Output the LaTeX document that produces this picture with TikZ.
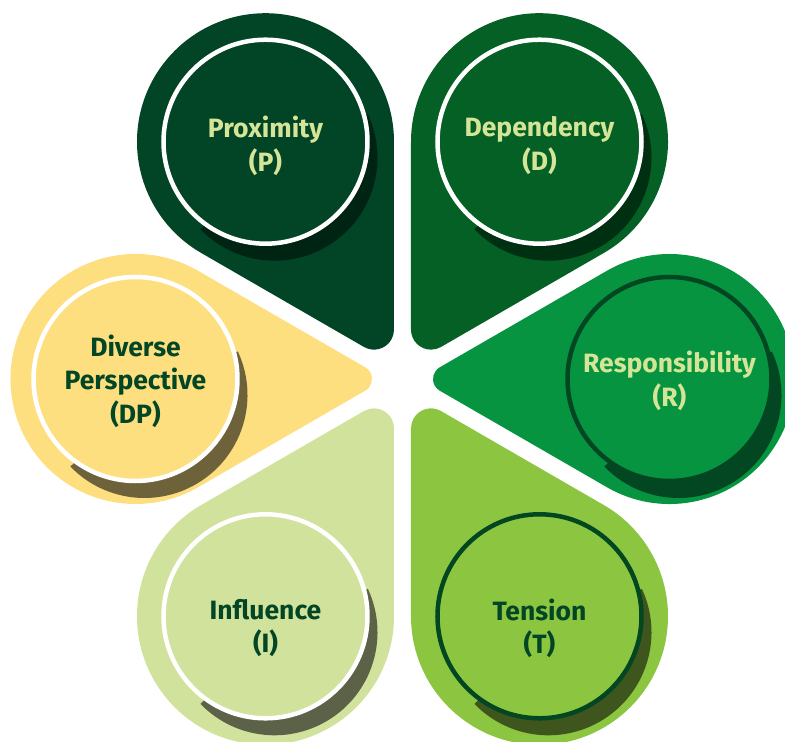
\documentclass[tikz,border=0pt]{standalone}
\usepackage{fontspec}
\setmainfont{Fira Sans}
\usetikzlibrary{calc}

\definecolor{proxcol}{RGB}{2,69,38}
\definecolor{proxshadow}{RGB}{0,36,20}
\definecolor{depcol}{RGB}{4,96,36}
\definecolor{depshadow}{RGB}{0,48,18}
\definecolor{respcol}{RGB}{6,148,64}
\definecolor{respshadow}{RGB}{2,70,34}
\definecolor{tenscol}{RGB}{140,198,64}
\definecolor{tensshadow}{RGB}{62,86,30}
\definecolor{inflcol}{RGB}{209,226,156}
\definecolor{inflshadow}{RGB}{92,98,72}
\definecolor{divcol}{RGB}{254,223,128}
\definecolor{divshadow}{RGB}{110,98,58}
\definecolor{lighttext}{RGB}{213,229,152}
\definecolor{darktext}{RGB}{3,70,38}

% petal: axis angle, outer radius, tip rounding, colour
\newcommand{\petal}[4]{%
	\pgfmathsetmacro{\tipc}{17+2*#3}
	\pgfmathsetmacro{\bigc}{17+2*#2}
	\fill[#4,rotate=#1] ([shift={(\tipc,0)}]120:#3) arc[start angle=120,end angle=240,radius=#3]
		-- ([shift={(\bigc,0)}]240:#2) arc[start angle=240,end angle=480,radius=#2] -- cycle;}
% shadow crescent behind the inner circle
\newcommand{\petalshadow}[2]{%
	\fill[#2] ($(#1)+(9,-16)$) -- +(25:103) arc[start angle=25,end angle=-136,radius=103] -- cycle;}

\tikzset{
	incircle/.style={circle,minimum size=204pt,inner sep=0pt,line width=4.5pt},
	petaltext/.style={align=center,font=\bfseries\fontsize{26.5}{33.5}\selectfont},
}

\begin{document}
\begin{tikzpicture}[x=1pt,y=1pt]
	\clip (-402.5,-363) rectangle (382.5,379);
	\coordinate (p) at (120:274);
	\coordinate (d) at (60:274);
	\coordinate (r) at (0:267);
	\coordinate (t) at (-60:274);
	\coordinate (i) at (-120:274);
	\coordinate (dp) at (180:267);

	\petal{120}{128.5}{20}{proxcol}
	\petal{60}{128.5}{20}{depcol}
	\petal{0}{125}{13.5}{respcol}
	\petal{-60}{128.5}{20}{tenscol}
	\petal{-120}{128.5}{20}{inflcol}
	\petal{180}{125}{13.5}{divcol}

	\petalshadow{p}{proxshadow}
	\petalshadow{d}{depshadow}
	\petalshadow{r}{respshadow}
	\petalshadow{t}{tensshadow}
	\petalshadow{i}{inflshadow}
	\petalshadow{dp}{divshadow}

	\node[incircle,fill=proxcol,draw=white] (prox) at (p) {};
	\node[incircle,fill=depcol,draw=white] (dep) at (d) {};
	\node[incircle,fill=respcol,draw=respshadow] (resp) at (r) {};
	\node[incircle,fill=tenscol,draw=respshadow] (tens) at (t) {};
	\node[incircle,fill=inflcol,draw=white] (infl) at (i) {};
	\node[incircle,fill=divcol,draw=white] (div) at (dp) {};

	\node[petaltext,text=lighttext] (proxtext) at ([yshift=-4pt]prox.center) {Proximity\\(P)};
	\node[petaltext,text=lighttext] (deptext) at ([yshift=-4pt]dep.center) {Dependency\\(D)};
	\node[petaltext,text=lighttext] (resptext) at ([yshift=-2pt]resp.center) {Responsibility\\(R)};
	\node[petaltext,text=darktext] (tenstext) at ([yshift=-12pt]tens.center) {Tension\\(T)};
	\node[petaltext,text=darktext] (infltext) at ([yshift=-12pt]infl.center) {Influence\\(I)};
	\node[petaltext,text=darktext] (divtext) at ([yshift=-2pt]div.center) {Diverse\\Perspective\\(DP)};
\end{tikzpicture}
\end{document}
